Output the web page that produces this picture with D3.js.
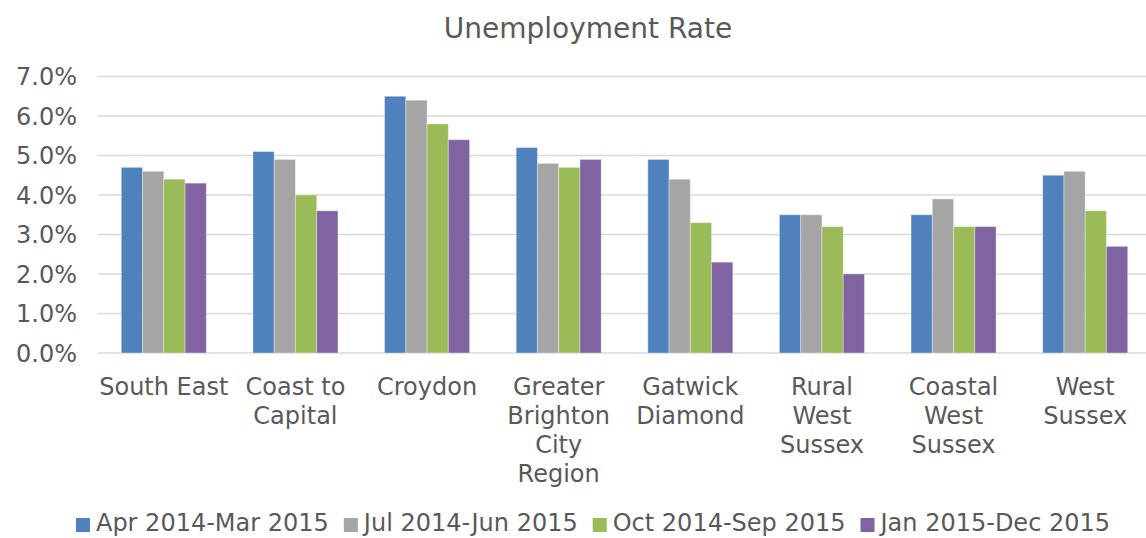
<!DOCTYPE html>
<html>
<head>
<meta charset="utf-8">
<script src="https://cdn.jsdelivr.net/npm/d3@7"></script>
<style>
  body { margin: 0; background: #fff; }
  svg text { font-family: "DejaVu Sans", Verdana, sans-serif; fill: #595959; }
</style>
</head>
<body>
<svg id="chart"></svg>
<script>
// chart.js — grouped bar chart of unemployment rate by area

const W = 1146, H = 538;

const categories = [
  ['South East'],
  ['Coast to', 'Capital'],
  ['Croydon'],
  ['Greater', 'Brighton', 'City', 'Region'],
  ['Gatwick', 'Diamond'],
  ['Rural', 'West', 'Sussex'],
  ['Coastal', 'West', 'Sussex'],
  ['West', 'Sussex']
];
const seriesNames = ['Apr 2014-Mar 2015', 'Jul 2014-Jun 2015', 'Oct 2014-Sep 2015', 'Jan 2015-Dec 2015'];
const seriesColors = ['#4F81BD', '#A5A5A5', '#9BBB59', '#8064A2'];

// values in %
const aprMar = [4.7, 5.1, 6.5, 5.2, 4.9, 3.5, 3.5, 4.5];
const julJun = [4.6, 4.9, 6.4, 4.8, 4.4, 3.5, 3.9, 4.6];
const octSep = [4.4, 4.0, 5.8, 4.7, 3.3, 3.2, 3.2, 3.6];
const janDec = [4.3, 3.6, 5.4, 4.9, 2.3, 2.0, 3.2, 2.7];
const series = [aprMar, julJun, octSep, janDec];

const yTicks = [0, 1, 2, 3, 4, 5, 6, 7];

const svg = d3.select('#chart').attr('width', W).attr('height', H);

const x = d3.scaleBand()
  .domain(d3.range(categories.length))
  .range([98, 1151])
  .paddingInner(0.354)
  .paddingOuter(0.177);

const xs = d3.scaleBand()
  .domain(d3.range(series.length))
  .range([0, x.bandwidth()]);

const y = d3.scaleLinear().domain([0, 7]).range([353, 76.5]);

// title
svg.append('text')
  .attr('x', 588).attr('y', 38)
  .attr('text-anchor', 'middle')
  .style('font-size', '28px')
  .text('Unemployment Rate');

// gridlines
svg.append('g').selectAll('line')
  .data(yTicks)
  .join('line')
  .attr('x1', 98).attr('x2', W)
  .attr('y1', d => y(d)).attr('y2', d => y(d))
  .attr('stroke', '#D9D9D9')
  .attr('stroke-width', 1.5);

// y labels
svg.append('g').selectAll('text')
  .data(yTicks)
  .join('text')
  .attr('x', 77).attr('y', d => y(d))
  .attr('text-anchor', 'end')
  .attr('dy', '0.36em')
  .style('font-size', '24px')
  .text(d => d3.format('.1f')(d) + '%');

// bars
const groups = svg.append('g').selectAll('g')
  .data(categories.map((c, i) => i))
  .join('g')
  .attr('transform', i => `translate(${x(i)},0)`);

groups.selectAll('rect')
  .data(i => series.map((s, k) => ({ k, v: s[i] })))
  .join('rect')
  .attr('x', d => xs(d.k))
  .attr('width', xs.bandwidth())
  .attr('y', d => y(d.v))
  .attr('height', d => y(0) - y(d.v))
  .attr('fill', d => seriesColors[d.k])
  .attr('stroke', '#fff')
  .attr('stroke-opacity', 0.35)
  .attr('stroke-width', 1);

// category labels
const catLabels = svg.append('g').selectAll('text')
  .data(categories)
  .join('text')
  .attr('x', (d, i) => x(i) + x.bandwidth() / 2)
  .attr('y', 395)
  .attr('text-anchor', 'middle')
  .style('font-size', '24px');

catLabels.selectAll('tspan')
  .data(d => d)
  .join('tspan')
  .attr('x', function () { return this.parentNode.getAttribute('x'); })
  .attr('dy', (d, j) => j === 0 ? 0 : 29)
  .text(d => d);

// legend
const legend = svg.append('g');
const items = legend.selectAll('g')
  .data(seriesNames)
  .join('g');
items.append('rect')
  .attr('width', 14).attr('height', 14)
  .attr('y', 518)
  .attr('fill', (d, i) => seriesColors[i]);
items.append('text')
  .attr('x', 20).attr('y', 531)
  .style('font-size', '24px')
  .text(d => d);

// lay out legend items centered
let widths = [];
items.each(function () { widths.push(this.getBBox().width); });
const gap = 15;
const total = d3.sum(widths) + gap * (widths.length - 1);
let cx = 593 - total / 2;
items.attr('transform', (d, i) => {
  const t = `translate(${cx},0)`;
  cx += widths[i] + gap;
  return t;
});
</script>
</body>
</html>
